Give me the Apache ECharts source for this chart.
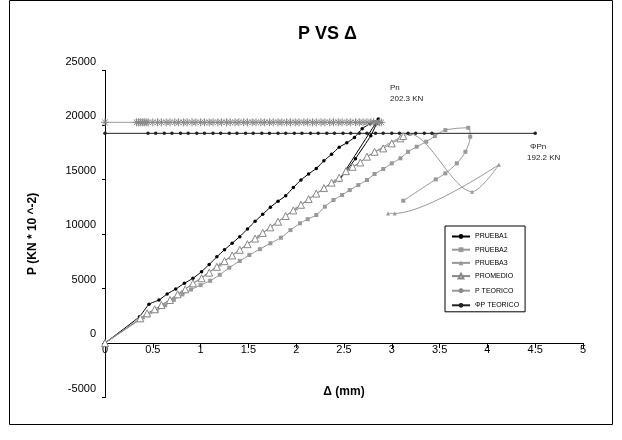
<!DOCTYPE html>
<html><head><meta charset="utf-8">
<script src="https://cdn.jsdelivr.net/npm/echarts@6/dist/echarts.min.js"></script>
<style>html,body{margin:0;padding:0;background:#fff}#c{width:622px;height:440px}</style>
</head><body><div id="c"></div>
<script>
const prueba1X = [0, 0.36, 0.46, 0.565, 0.65, 0.74, 0.83, 0.92, 1.01, 1.09, 1.17, 1.25, 1.33, 1.41, 1.49, 1.57, 1.65, 1.73, 1.81, 1.89, 1.97, 2.05, 2.13, 2.21, 2.29, 2.37, 2.45, 2.53, 2.61, 2.69, 2.77, 2.86, 2.45, 2.62, 2.78, 2.84];
const prueba1Y = [0, 2410, 3550, 3940, 4490, 4950, 5470, 5930, 6540, 7200, 7900, 8550, 9150, 9750, 10450, 11150, 11800, 12450, 13000, 13500, 14250, 14950, 15500, 16000, 16700, 17300, 17950, 18350, 18850, 19650, 20100, 20530, 14940, 16900, 19000, 20100];

const prueba2X = [0, 0.36, 0.45, 0.54, 0.63, 0.72, 0.81, 0.9, 1.0, 1.1, 1.2, 1.3, 1.41, 1.51, 1.62, 1.73, 1.84, 1.94, 2.04, 2.12, 2.21, 2.3, 2.39, 2.48, 2.56, 2.65, 2.74, 2.82, 2.91, 3.0, 3.09, 3.17, 3.26, 3.36, 3.45, 3.56, 3.8, 3.82, 3.77, 3.68, 3.56, 3.46, 3.12];
const prueba2Y = [0, 2100, 2550, 2960, 3450, 3950, 4450, 4900, 5300, 5700, 6250, 6900, 7520, 8070, 8600, 9140, 9650, 10350, 10970, 11350, 11730, 12500, 13110, 13570, 14020, 14480, 14940, 15490, 15950, 16470, 16930, 17530, 17990, 18450, 18970, 19520, 19730, 18910, 17530, 16470, 15550, 15000, 13040];

const prueba3X = [0, 0.4, 0.8, 1.2, 1.6, 2.0, 2.4, 2.8, 3.1, 3.19, 3.84, 4.12, 3.03, 2.96];
const prueba3Y = [0, 2350, 4700, 7200, 9760, 12350, 14850, 17400, 18900, 19150, 13870, 16350, 11880, 11880];

const promedioX = [0, 0.37, 0.44, 0.52, 0.59, 0.68, 0.76, 0.84, 0.92, 1.01, 1.09, 1.17, 1.25, 1.33, 1.41, 1.49, 1.57, 1.65, 1.73, 1.81, 1.89, 1.97, 2.05, 2.13, 2.21, 2.29, 2.37, 2.45, 2.52, 2.59, 2.67, 2.74, 2.82, 2.91, 3.0, 3.09, 3.12];
const promedioY = [0, 2260, 2720, 3090, 3480, 3940, 4460, 4920, 5470, 5930, 6450, 6980, 7500, 8020, 8540, 9060, 9570, 10090, 10600, 11120, 11640, 12150, 12670, 13190, 13700, 14200, 14700, 15150, 15750, 16150, 16550, 17080, 17530, 17840, 18300, 18760, 18970];

const pTeoricoX = [0, 0.33, 0.35, 0.37, 0.39, 0.41, 0.43, 0.45, 0.5, 0.55, 0.59, 0.64, 0.68, 0.73, 0.77, 0.82, 0.86, 0.91, 0.95, 1.0, 1.04, 1.09, 1.13, 1.18, 1.22, 1.27, 1.31, 1.36, 1.4, 1.45, 1.49, 1.54, 1.58, 1.63, 1.67, 1.72, 1.76, 1.81, 1.85, 1.9, 1.94, 1.99, 2.03, 2.08, 2.12, 2.17, 2.21, 2.26, 2.3, 2.35, 2.39, 2.44, 2.48, 2.53, 2.57, 2.62, 2.66, 2.7, 2.74, 2.78, 2.81, 2.84, 2.87, 2.89];
const pTeoricoValue = 20230;

const phiPTeoricoX = [0, 0.45, 0.53, 0.62, 0.7, 0.79, 0.87, 0.96, 1.04, 1.13, 1.21, 1.3, 1.38, 1.47, 1.55, 1.64, 1.72, 1.81, 1.89, 1.98, 2.06, 2.15, 2.23, 2.32, 2.4, 2.49, 2.57, 2.66, 2.74, 2.83, 2.91, 3.0, 3.08, 3.17, 3.25, 3.34, 3.42, 4.5];
const phiPTeoricoValue = 19220;

const seriesNames = ['PRUEBA1', 'PRUEBA2', 'PRUEBA3', 'PROMEDIO', 'P TEORICO', 'ΦP TEORICO'];

function pairs(xs, ys) { return xs.map((x, i) => [x, ys[i]]); }
function constPairs(xs, v) { return xs.map(x => [x, v]); }

const FONT = '"Liberation Sans", Arial, sans-serif';
const asterisk = 'path://M5,0L5,10M0,5L10,5M1.5,1.5L8.5,8.5M1.5,8.5L8.5,1.5';

const chart = echarts.init(document.getElementById('c'), null, {renderer: 'canvas'});
chart.setOption({
  animation: false,
  backgroundColor: '#fff',
  textStyle: {fontFamily: FONT},
  title: {
    text: 'P VS Δ', left: 298, top: 25, padding: 0,
    textStyle: {fontFamily: FONT, fontSize: 18, fontWeight: 'bold', color: '#000'}
  },
  grid: {left: 105, right: 39, top: 70.3, bottom: 42.5, containLabel: false, outerBoundsMode: 'none'},
  legend: {
    data: seriesNames,
    orient: 'vertical', left: 445, top: 226,
    padding: [7, 6, 3, 6],
    itemWidth: 18, itemHeight: 6, itemGap: 6.2,
    borderColor: '#000', borderWidth: 1, backgroundColor: '#fff',
    textStyle: {fontFamily: FONT, fontSize: 7, color: '#000'}
  },
  xAxis: {
    type: 'value', min: 0, max: 5, interval: 0.5,
    offset: -54.5,
    name: 'Δ (mm)', nameLocation: 'middle', nameGap: 43,
    nameTextStyle: {fontFamily: FONT, fontSize: 12, fontWeight: 'bold', color: '#000'},
    axisLine: {onZero: false, lineStyle: {color: '#000', width: 1}},
    axisTick: {show: true, length: 5, lineStyle: {color: '#000'}},
    axisLabel: {margin: 1, fontSize: 11, color: '#000', fontFamily: FONT},
    splitLine: {show: false}
  },
  yAxis: {
    type: 'value', min: -5000, max: 25000, interval: 5000,
    name: 'P (KN * 10 ^-2)', nameLocation: 'middle', nameGap: 66,
    nameTextStyle: {fontFamily: FONT, fontSize: 12, fontWeight: 'bold', color: '#000'},
    axisLine: {show: true, onZero: false, lineStyle: {color: '#000', width: 1}},
    axisTick: {show: true, length: 3, lineStyle: {color: '#000'}},
    axisLabel: {margin: 9, fontSize: 11, color: '#000', fontFamily: FONT, verticalAlign: 'bottom', padding: [0, 0, 3, 0],
      formatter: v => String(v)},
    splitLine: {show: false}
  },
  series: [
    {name: 'PRUEBA1', type: 'line', data: pairs(prueba1X, prueba1Y), smooth: 0.15,
      symbol: 'circle', symbolSize: 3.5, showAllSymbol: true,
      lineStyle: {color: '#000', width: 1}, itemStyle: {color: '#000'}},
    {name: 'PRUEBA2', type: 'line', data: pairs(prueba2X, prueba2Y), smooth: 0.3,
      symbol: 'rect', symbolSize: 4, showAllSymbol: true,
      lineStyle: {color: '#999', width: 1}, itemStyle: {color: '#999'}},
    {name: 'PRUEBA3', type: 'line', data: pairs(prueba3X, prueba3Y), smooth: 0.3,
      symbol: 'triangle', symbolSize: 4, showAllSymbol: true,
      lineStyle: {color: '#999', width: 1}, itemStyle: {color: '#999'}},
    {name: 'PROMEDIO', type: 'line', data: pairs(promedioX, promedioY),
      symbol: 'triangle', symbolSize: 7, showAllSymbol: true,
      lineStyle: {color: '#888', width: 1}, itemStyle: {color: '#fff', borderColor: '#888', borderWidth: 1}},
    {name: 'P TEORICO', type: 'line', data: constPairs(pTeoricoX, pTeoricoValue),
      symbol: asterisk, symbolSize: 8, showAllSymbol: true,
      lineStyle: {color: '#999', width: 1}, itemStyle: {color: 'none', borderColor: '#888', borderWidth: 1}},
    {name: 'ΦP TEORICO', type: 'line', data: constPairs(phiPTeoricoX, phiPTeoricoValue),
      symbol: 'circle', symbolSize: 3.5, showAllSymbol: true,
      lineStyle: {color: '#222', width: 1}, itemStyle: {color: '#222'}}
  ],
  graphic: [
    {type: 'rect', shape: {x: 9.5, y: 0.5, width: 603, height: 424}, style: {fill: 'none', stroke: '#000', lineWidth: 1}, silent: true, z: -1},
    {type: 'text', left: 390, top: 84, style: {text: 'Pn', font: '8px "Liberation Sans", Arial', fill: '#222'}},
    {type: 'text', left: 390, top: 95, style: {text: '202.3 KN', font: '8px "Liberation Sans", Arial', fill: '#222'}},
    {type: 'text', left: 530, top: 143, style: {text: 'ΦPn', font: '8px "Liberation Sans", Arial', fill: '#222'}},
    {type: 'text', left: 527, top: 154, style: {text: '192.2 KN', font: '8px "Liberation Sans", Arial', fill: '#222'}}
  ]
});
</script></body></html>
